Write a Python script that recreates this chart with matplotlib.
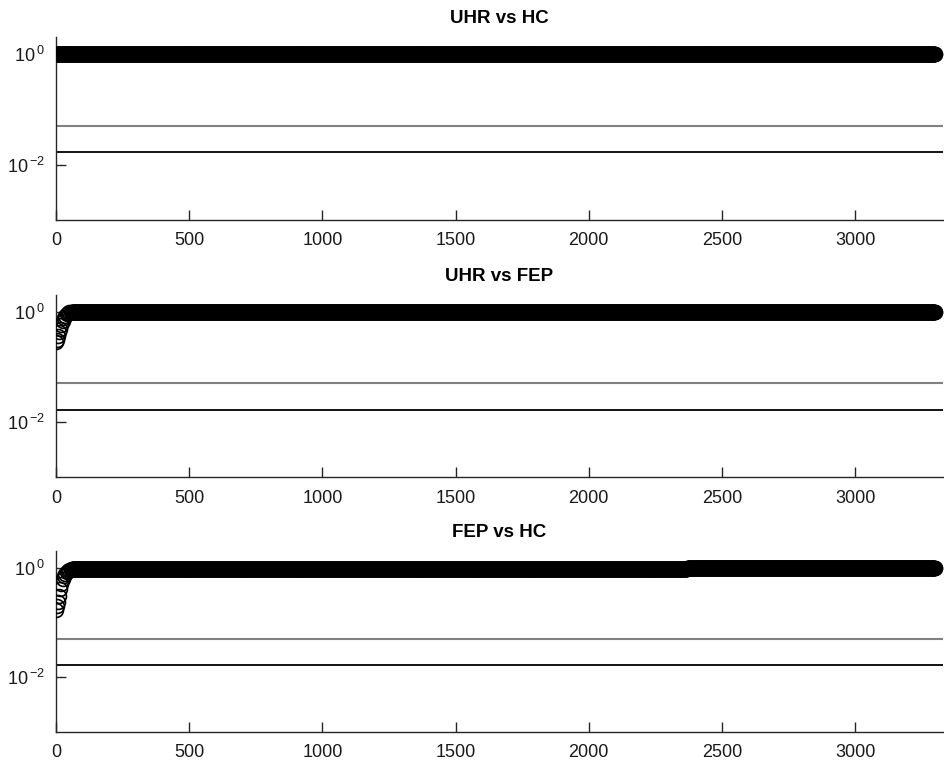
import numpy as np
import matplotlib.pyplot as plt
from matplotlib.ticker import FixedLocator, FixedFormatter, NullLocator

plt.rcParams['font.family'] = ['Liberation Sans', 'DejaVu Sans']

# Number of tests along the x axis
n_tests = 3300

# Early part of each series (x index, value)
early_x = [1, 3, 6, 10, 15, 20, 25, 30, 35, 40, 45, 50, 55, 60]
uhr_fep_early = [0.28, 0.31, 0.36, 0.42, 0.49, 0.58, 0.67, 0.75,
                 0.83, 0.89, 0.94, 0.97, 0.99, 1.0]
fep_hc_early = [0.17, 0.20, 0.23, 0.30, 0.40, 0.51, 0.61, 0.70,
                0.77, 0.83, 0.87, 0.90, 0.91, 0.92]

# Plateau levels
uhr_hc_level = 1.0
uhr_fep_level = 1.0
fep_hc_level_before = 0.92
fep_hc_level_after = 1.0
fep_hc_step_x = 2370

# Significance thresholds
alpha = 0.05
alpha_corrected = 0.05 / 3

titles = ['UHR vs HC', 'UHR vs FEP', 'FEP vs HC']


def build_series():
    x_all = np.arange(1, n_tests + 1)
    s1 = np.full(n_tests, uhr_hc_level)

    x_rest = np.arange(early_x[-1] + 1, n_tests + 1)
    x2 = np.concatenate([early_x, x_rest])
    s2 = np.concatenate([uhr_fep_early, np.full(len(x_rest), uhr_fep_level)])

    rest3 = np.where(x_rest < fep_hc_step_x, fep_hc_level_before, fep_hc_level_after)
    s3 = np.concatenate([fep_hc_early, rest3])
    return [(x_all, s1), (x2, s2), (x2, s3)]


fig = plt.figure(figsize=(9.44, 7.62), dpi=100)
left, width = 0.0593, 0.9396
bottoms = [0.7113, 0.374, 0.0394]
heights = [0.240, 0.239, 0.2375]
axis_col = '#262626'

for k, (x, y) in enumerate(build_series()):
    ax = fig.add_axes([left, bottoms[k], width, heights[k]])
    ax.plot(x, y, 'o', mfc='none', mec='k', ms=10, mew=1.2, zorder=3)
    ax.axhline(alpha, color='#808080', lw=1.5)
    ax.axhline(alpha_corrected, color='k', lw=1.3)
    ax.set_yscale('log')
    ax.set_ylim(1e-3, 2)
    ax.set_xlim(0, 3330)
    ax.yaxis.set_major_locator(FixedLocator([1e-2, 1e0]))
    ax.yaxis.set_major_formatter(FixedFormatter([r'$\mathregular{10^{\,{-}2}}$',
                                                 r'$\mathregular{10^{\,0}}$']))
    ax.yaxis.set_minor_locator(NullLocator())
    ax.set_xticks(range(0, 3001, 500))
    for side in ['top', 'right']:
        ax.spines[side].set_visible(False)
    for side in ['left', 'bottom']:
        ax.spines[side].set_color(axis_col)
        ax.spines[side].set_linewidth(1.0)
    ax.tick_params(direction='in', length=7, width=1.0, color=axis_col,
                   labelsize=13, labelcolor='#1a1a1a')
    ax.tick_params(axis='x', pad=9)
    ax.tick_params(axis='y', pad=8)
    ax.set_title(titles[k], fontsize=13.5, fontweight='bold', pad=10)

fig.savefig('out.png', dpi=100)
